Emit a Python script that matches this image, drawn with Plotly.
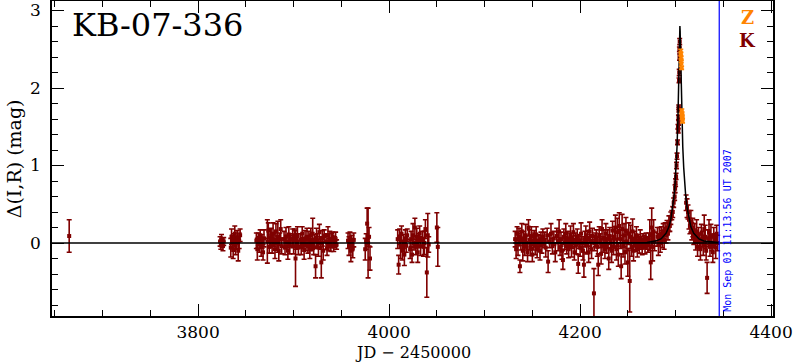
import plotly.graph_objects as go

# ---------------- data ----------------
# Season 1 (K = dark red data set)
s1_t = [3665,
        3823.0, 3823.8, 3824.5, 3825.2, 3826.0, 3826.8,
        3834.2, 3835.0, 3835.9, 3836.7, 3837.5, 3838.4, 3839.2, 3840.1, 3841.0, 3842.0, 3843.0, 3844.0,
        3861, 3862, 3863, 3864, 3865, 3866, 3867, 3868, 3869,
        3872.5, 3873.5, 3874.5, 3875.5, 3876.5, 3877.5, 3878.5, 3879.5, 3880.5, 3881.5, 3882.5, 3883.5, 3884.5, 3885.5, 3886.5, 3887.5,
        3890, 3891, 3892, 3893, 3894, 3895, 3896, 3897,
        3899, 3900, 3901, 3902, 3903, 3904, 3905,
        3907, 3908, 3909, 3910, 3911, 3912, 3913, 3914, 3915,
        3916, 3917, 3918, 3919, 3920, 3921, 3922, 3923, 3924,
        3925, 3926, 3927, 3928, 3929, 3930, 3931, 3932,
        3934, 3935, 3936, 3937, 3938, 3939, 3940, 3941, 3942, 3943, 3944, 3945,
        3957, 3958, 3959, 3960, 3961, 3962, 3963,
        3975, 3976, 3977, 3978, 3979, 3980,
        4009, 4010, 4011, 4012, 4013, 4014, 4015, 4016, 4017, 4018, 4019,
        4022, 4023, 4024, 4025, 4026, 4027, 4028, 4029, 4030, 4031, 4032, 4033,
        4035, 4036, 4037, 4038, 4039.5, 4040.5, 4041.5,
        4050, 4051]
s1_mag = [0.09,
          0.02, -0.03, 0.04, 0.00, -0.04, 0.02,
          -0.06, 0.08, 0.02, -0.09, 0.05, 0.12, -0.03, 0.00, 0.07, -0.10, 0.03, 0.10,
          0.03, -0.08, 0.05, -0.02, 0.10, -0.05, 0.02, -0.12, 0.06,
          0.02, 0.16, -0.05, 0.06, 0.10, -0.03, 0.12, 0.04, -0.08, 0.15, 0.00, 0.08, -0.10, 0.05, 0.18, -0.04,
          0.05, -0.06, 0.08, 0.02, -0.10, 0.11, -0.02, 0.04,
          0.06, -0.04, 0.10, -0.20, 0.02, 0.09, -0.06,
          0.04, -0.05, 0.12, 0.00, -0.09, 0.06, -0.02, 0.08, -0.04,
          0.05, -0.08, 0.10, -0.02, 0.12, -0.05, 0.02, -0.30, 0.07,
          0.03, -0.06, 0.14, 0.00, -0.25, 0.06, -0.10, 0.09,
          0.02, -0.07, 0.10, -0.02, 0.05, -0.04, 0.03, 0.08, -0.03, 0.01, 0.05, -0.02,
          0.03, -0.04, 0.06, -0.10, 0.00, -0.07, 0.04,
          -0.08, 0.02, 0.25, 0.00, 0.08, -0.20,
          0.05, -0.28, 0.08, -0.05, 0.12, -0.10, 0.02, -0.15, 0.06, -0.03, 0.10,
          -0.08, 0.05, -0.15, 0.10, 0.00, 0.20, -0.05, 0.08, -0.12, 0.03, 0.12, -0.04,
          0.05, -0.05, 0.00, 0.18, -0.38, 0.10, -0.02,
          0.20, -0.05]
s1_err = [0.21,
          0.06, 0.05, 0.07, 0.05, 0.06, 0.05,
          0.12, 0.10, 0.08, 0.11, 0.07, 0.10, 0.12, 0.08, 0.09, 0.13, 0.10, 0.08,
          0.10, 0.14, 0.08, 0.10, 0.07, 0.12, 0.09, 0.10, 0.11,
          0.28, 0.10, 0.08, 0.12, 0.09, 0.10, 0.14, 0.08, 0.12, 0.10, 0.09, 0.20, 0.13, 0.08, 0.12, 0.10,
          0.10, 0.09, 0.12, 0.08, 0.11, 0.10, 0.12, 0.08,
          0.12, 0.10, 0.08, 0.36, 0.10, 0.12, 0.09,
          0.08, 0.10, 0.09, 0.07, 0.12, 0.10, 0.08, 0.11, 0.09,
          0.10, 0.12, 0.09, 0.08, 0.20, 0.10, 0.09, 0.15, 0.12,
          0.09, 0.11, 0.10, 0.08, 0.20, 0.10, 0.12, 0.08,
          0.10, 0.09, 0.11, 0.08, 0.10, 0.07, 0.09, 0.06, 0.08, 0.07, 0.09, 0.06,
          0.10, 0.12, 0.08, 0.14, 0.10, 0.12, 0.09,
          0.14, 0.10, 0.20, 0.45, 0.12, 0.15,
          0.12, 0.12, 0.10, 0.15, 0.10, 0.12, 0.09, 0.14, 0.11, 0.09, 0.08,
          0.12, 0.10, 0.10, 0.15, 0.09, 0.12, 0.10, 0.11, 0.13, 0.09, 0.10, 0.12,
          0.10, 0.12, 0.15, 0.12, 0.32, 0.28, 0.10,
          0.19, 0.25]

# Season 2 baseline
s2_t = [4132, 4133, 4134, 4135, 4136, 4137, 4138, 4139, 4140, 4141,
        4142, 4143, 4144, 4145, 4146, 4147, 4148, 4149, 4150, 4151,
        4152, 4153, 4154, 4155, 4156, 4157, 4158, 4159, 4160, 4161,
        4162.5, 4164, 4165.5, 4166.5, 4168, 4169.5, 4171, 4172.5, 4174, 4175.5,
        4177, 4178, 4179, 4180, 4181, 4182, 4183, 4184, 4185, 4186,
        4187, 4188, 4189, 4190, 4191, 4192, 4193, 4194, 4195, 4196,
        4197, 4198, 4199, 4200, 4201, 4202, 4203, 4204, 4205, 4206,
        4207, 4208, 4209, 4210, 4211, 4212, 4213, 4214.5, 4215, 4216,
        4217, 4218, 4219, 4220, 4221, 4222, 4223, 4224, 4225, 4226,
        4227, 4228, 4229, 4230, 4231, 4232, 4233, 4234, 4235, 4236,
        4237, 4238, 4239, 4240, 4241, 4242, 4243, 4244, 4245, 4246,
        4247, 4248, 4249, 4250, 4251, 4252, 4253, 4254, 4255, 4256,
        4257, 4258, 4259, 4260, 4261, 4262, 4263, 4264, 4265, 4266,
        4267, 4268, 4269, 4270, 4271, 4272,
        4273, 4274, 4275, 4276, 4277, 4278]
s2_mag = [0.05, -0.08, 0.12, -0.02, 0.08, -0.30, 0.03, 0.15, -0.10, 0.06,
          -0.05, 0.10, 0.00, -0.12, 0.20, 0.04, -0.06, 0.09, -0.15, 0.02,
          0.07, -0.03, 0.11, -0.08, 0.03, 0.00, -0.10, 0.05, -0.02, 0.08,
          0.04, -0.06, 0.10, -0.24, 0.02, 0.12, -0.04, 0.06, -0.12, 0.09,
          0.02, 0.15, -0.06, 0.05, -0.10, -0.22, 0.08, 0.00, 0.12, -0.04,
          0.06, -0.08, 0.03, 0.10, -0.05, 0.01, 0.14, -0.12, 0.04, -0.02,
          0.08, -0.27, 0.02, -0.06, 0.12, 0.00, -0.10, -0.28, 0.05, 0.10,
          -0.03, 0.06, -0.12, 0.15, 0.02, -0.08, 0.09, -0.65, 0.00, 0.04,
          0.07, -0.05, -0.28, 0.10, 0.03, -0.14, 0.18, -0.02, 0.06, -0.08,
          0.12, -0.03, 0.05, -0.20, 0.09, 0.00, -0.10, 0.16, -0.05, 0.08,
          0.20, -0.08, 0.14, -0.15, 0.22, 0.05, -0.30, 0.18, -0.04, 0.10,
          -0.12, 0.16, 0.02, -0.25, 0.12, -0.49, 0.08, -0.05, 0.15, -0.10,
          0.05, -0.02, 0.10, -0.08, 0.03, -0.04, 0.07, 0.00, -0.06, 0.04,
          0.02, -0.05, 0.06, 0.00, -0.03, 0.05,
          0.10, -0.25, 0.20, -0.05, 0.15, 0.02]
s2_err = [0.10, 0.12, 0.09, 0.14, 0.11, 0.08, 0.12, 0.10, 0.13, 0.09,
          0.11, 0.14, 0.09, 0.12, 0.10, 0.13, 0.10, 0.12, 0.09, 0.11,
          0.09, 0.12, 0.10, 0.11, 0.08, 0.10, 0.12, 0.09, 0.11, 0.10,
          0.10, 0.12, 0.09, 0.14, 0.08, 0.13, 0.10, 0.09, 0.12, 0.10,
          0.12, 0.15, 0.10, 0.09, 0.11, 0.12, 0.10, 0.08, 0.13, 0.10,
          0.09, 0.11, 0.10, 0.12, 0.13, 0.08, 0.11, 0.10, 0.09, 0.12,
          0.10, 0.12, 0.09, 0.11, 0.14, 0.08, 0.12, 0.16, 0.10, 0.12,
          0.11, 0.10, 0.13, 0.12, 0.09, 0.12, 0.10, 0.32, 0.10, 0.09,
          0.10, 0.12, 0.14, 0.11, 0.09, 0.13, 0.12, 0.10, 0.11, 0.12,
          0.13, 0.10, 0.12, 0.14, 0.11, 0.09, 0.15, 0.12, 0.10, 0.13,
          0.16, 0.14, 0.18, 0.15, 0.17, 0.12, 0.16, 0.19, 0.14, 0.15,
          0.15, 0.17, 0.12, 0.18, 0.14, 0.40, 0.15, 0.12, 0.16, 0.13,
          0.10, 0.09, 0.11, 0.10, 0.08, 0.09, 0.10, 0.08, 0.09, 0.08,
          0.08, 0.09, 0.07, 0.08, 0.09, 0.08,
          0.20, 0.22, 0.25, 0.18, 0.15, 0.12]

# Rising branch and peak
s3_t = [4281, 4282, 4283, 4284, 4285, 4286, 4287, 4288, 4289, 4290,
        4291, 4292, 4293, 4294, 4295, 4296, 4297, 4298, 4299, 4299.5,
        4300, 4300.5, 4301, 4301.5, 4302, 4302.5, 4302.8, 4303, 4303.2, 4303.3,
        4303.4, 4303.6, 4303.8, 4304, 4304.1, 4304.3]
s3_mag = [0.08, -0.02, 0.10, 0.00, 0.12, 0.05, 0.15, 0.04, 0.18, 0.10,
          0.20, 0.12, 0.25, 0.22, 0.32, 0.36, 0.40, 0.52, 0.60, 0.70,
          0.78, 0.86, 1.00, 1.12, 1.30, 1.50, 1.45, 1.62, 1.55, 1.75,
          1.72, 2.10, 2.20, 2.50, 2.40, 2.60]
s3_err = [0.12, 0.14, 0.10, 0.12, 0.09, 0.11, 0.10, 0.12, 0.08, 0.10,
          0.09, 0.08, 0.10, 0.07, 0.08, 0.06, 0.07, 0.06, 0.05, 0.05,
          0.05, 0.04, 0.04, 0.04, 0.03, 0.03, 0.03, 0.03, 0.03, 0.03,
          0.03, 0.03, 0.04, 0.03, 0.04, 0.04]

# Falling branch
s4_t = [4311, 4312, 4313, 4314, 4315, 4316, 4317, 4318, 4319, 4320,
        4321, 4322, 4323, 4324, 4325, 4326, 4327, 4328, 4329, 4330,
        4331, 4332, 4333, 4334, 4335, 4336, 4337, 4338, 4339, 4340,
        4341, 4342, 4343, 4344]
s4_mag = [0.52, 0.45, 0.40, 0.30, 0.22, 0.28, 0.15, 0.20, 0.08, 0.12,
          0.03, 0.15, -0.05, 0.10, 0.02, -0.08, 0.12, 0.05, -0.03, 0.18,
          0.08, -0.10, -0.45, 0.06, 0.14, -0.05, 0.10, 0.00, -0.12, 0.08,
          0.03, -0.06, 0.12, 0.00]
s4_err = [0.10, 0.12, 0.09, 0.12, 0.10, 0.14, 0.11, 0.12, 0.10, 0.13,
          0.12, 0.15, 0.12, 0.10, 0.11, 0.14, 0.12, 0.10, 0.13, 0.18,
          0.15, 0.12, 0.20, 0.11, 0.16, 0.12, 0.14, 0.10, 0.13, 0.12,
          0.09, 0.14, 0.11, 0.10]

# Z (orange) data set
z_t = [4305.4, 4305.6, 4305.8, 4306.0, 4306.3, 4306.5, 4306.8, 4307.0, 4307.3]
z_mag = [2.46, 2.42, 2.37, 2.32, 2.26, 1.70, 1.66, 1.62, 1.58]
z_err = [0.04, 0.04, 0.04, 0.04, 0.02, 0.03, 0.03, 0.03, 0.03]

# Model light curve
model_t = [4130, 4200, 4240, 4260, 4270, 4280, 4285, 4290, 4293, 4295,
           4297, 4298.5, 4299.5, 4300.5, 4301.5, 4302.5, 4303, 4303.5, 4304, 4304.25,
           4304.5, 4304.75, 4305, 4305.5, 4306, 4306.5, 4307.5, 4308.5, 4309.5, 4310.5,
           4312, 4314, 4316, 4319, 4324.5, 4329.5, 4339.5, 4345]
model_mag = [0.0, 0.0005, 0.002, 0.004, 0.008, 0.028, 0.055, 0.125, 0.209, 0.306,
             0.455, 0.622, 0.774, 0.973, 1.242, 1.626, 1.885, 2.21, 2.58, 2.74,
             2.80, 2.74, 2.58, 2.21, 1.885, 1.626, 1.242, 0.973, 0.774, 0.622,
             0.455, 0.306, 0.209, 0.125, 0.052, 0.026, 0.008, 0.005]

event_name = "KB-07-336"
now_jd = 4345.7
now_label = "Mon Sep 03 11:13:56 UT 2007"
x_ticks = [3800, 4000, 4200, 4400]
y_ticks = [0, 1, 2, 3]

# ---------------- figure ----------------
k_t = s1_t + s2_t + s3_t + s4_t
k_mag = s1_mag + s2_mag + s3_mag + s4_mag
k_err = s1_err + s2_err + s3_err + s4_err
assert len(k_t) == len(k_mag) == len(k_err), (len(k_t), len(k_mag), len(k_err))

DARK = "#7f0000"
ORANGE = "#ff8400"
SERIF = "DejaVu Serif"

fig = go.Figure()
fig.add_trace(go.Scatter(
    x=k_t, y=k_mag, mode="markers",
    marker=dict(symbol="square", size=4, color=DARK, line=dict(width=0)),
    error_y=dict(type="data", array=k_err, color=DARK, thickness=1.6, width=2.5),
    showlegend=False))
fig.add_trace(go.Scatter(
    x=model_t, y=model_mag, mode="lines",
    line=dict(color="black", width=1.5), showlegend=False))
fig.add_trace(go.Scatter(
    x=z_t, y=z_mag, mode="markers",
    marker=dict(symbol="square", size=4, color=ORANGE, line=dict(width=0)),
    error_y=dict(type="data", array=z_err, color=ORANGE, thickness=1.6, width=2.5),
    showlegend=False))

fig.add_hline(y=0, line=dict(color="black", width=1.4))
fig.add_vline(x=now_jd, line=dict(color="#0000ff", width=1.2))

axis_common = dict(
    showgrid=False, zeroline=False, showline=True, linecolor="black", linewidth=1.5,
    mirror="allticks", ticks="inside", ticklen=12, tickwidth=1.2, tickcolor="black",
    tickfont=dict(family=SERIF, size=17, color="black"), automargin=False,
    ticklabeloverflow="allow",
)
fig.update_xaxes(range=[3647, 4402], tickvals=x_ticks,
                 minor=dict(dtick=50, tick0=3600, ticks="inside", ticklen=6, tickcolor="black", tickwidth=1.2),
                 ticklabelstandoff=0,
                 **axis_common)
fig.update_yaxes(range=[-0.942, 3.123], tickvals=y_ticks,
                 minor=dict(dtick=0.2, tick0=0, ticks="inside", ticklen=6, tickcolor="black", tickwidth=1.2),
                 ticklabelstandoff=6,
                 **axis_common)

# axis titles
fig.add_annotation(text="JD − 2450000", xref="paper", yref="paper", x=0.5, y=-0.116,
                   xanchor="center", yanchor="middle", showarrow=False,
                   font=dict(family=SERIF, size=16, color="black"))
fig.add_annotation(text="Δ(I,R) (mag)", xref="paper", yref="paper", x=-0.053, y=0.5,
                   xanchor="center", yanchor="middle", showarrow=False, textangle=-90,
                   font=dict(family=SERIF, size=19, color="black"))

fig.add_annotation(text=event_name, xref="paper", yref="paper", x=0.025, y=0.924,
                   xanchor="left", yanchor="middle", showarrow=False,
                   font=dict(family=SERIF, size=32, color="black"))
fig.add_annotation(text="<b>Z</b>", xref="paper", yref="paper", x=0.965, y=0.949,
                   xanchor="center", yanchor="middle", showarrow=False,
                   font=dict(family=SERIF, size=18, color=ORANGE))
fig.add_annotation(text="<b>K</b>", xref="paper", yref="paper", x=0.965, y=0.876,
                   xanchor="center", yanchor="middle", showarrow=False,
                   font=dict(family=SERIF, size=18, color=DARK))
fig.add_annotation(text=now_label, x=now_jd, y=-0.91, xref="x", yref="y",
                   xanchor="left", yanchor="bottom", textangle=-90, showarrow=False,
                   xshift=0, font=dict(family="DejaVu Sans Mono", size=10, color="#0000ff"))

fig.update_layout(width=793, height=362, margin=dict(l=52, r=20, t=1, b=46),
                  plot_bgcolor="white", paper_bgcolor="white")
fig.write_html("out.html", config={"displayModeBar": False},
               post_script="document.body.style.margin='0';document.body.style.overflow='hidden';")
